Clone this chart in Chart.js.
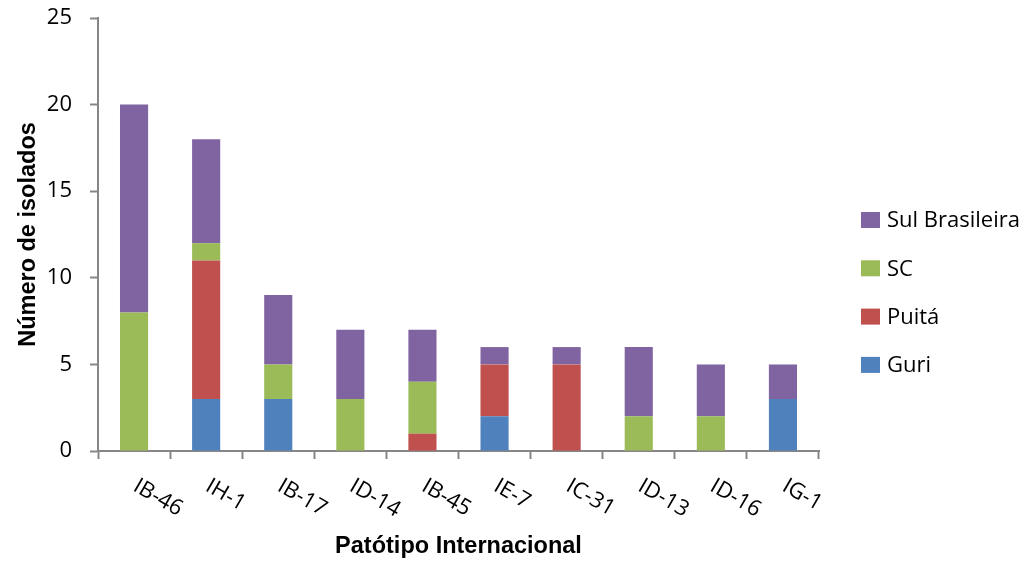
<!DOCTYPE html>
<html>
<head>
<meta charset="utf-8">
<script src="https://cdn.jsdelivr.net/npm/chart.js@4/dist/chart.umd.min.js"></script>
<style>
  html, body { margin: 0; padding: 0; background: #fff; }
  #wrap { width: 1031px; height: 564px; position: relative; }
</style>
</head>
<body>
<div id="wrap"><canvas id="c" width="1031" height="564"></canvas></div>
<script>
// Patótipos e número de isolados por cultivar de origem
const categories = ['IB-46', 'IH-1', 'IB-17', 'ID-14', 'IB-45', 'IE-7', 'IC-31', 'ID-13', 'ID-16', 'IG-1'];
const guri          = [0, 3, 3, 0, 0, 2, 0, 0, 0, 3];
const puita         = [0, 8, 0, 0, 1, 3, 5, 0, 0, 0];
const sc            = [8, 1, 2, 3, 3, 0, 0, 2, 2, 0];
const sulBrasileira = [12, 6, 4, 4, 3, 1, 1, 4, 3, 2];
const yTickValues   = [0, 5, 10, 15, 20, 25];

const FONT = '"Open Sans", sans-serif';
const TITLE_FONT = '"Liberation Sans", Arial, sans-serif';
const AXIS_GREY = '#868686';

// Category labels slanted downward to the right, below the tick marks
const slantedLabels = {
  id: 'slantedLabels',
  afterDraw(chart) {
    const ctx = chart.ctx;
    const x = chart.scales.x;
    const angle = 30 * Math.PI / 180;
    ctx.save();
    ctx.font = '22px ' + FONT;
    ctx.fillStyle = '#000';
    ctx.textAlign = 'left';
    ctx.textBaseline = 'alphabetic';
    categories.forEach((label, i) => {
      const px = x.getPixelForValue(i);
      ctx.save();
      ctx.translate(px - 2, x.top + 39);
      ctx.rotate(angle);
      ctx.fillText(label, 0, 0);
      ctx.restore();
    });
    ctx.restore();
  }
};

// Legend on the right, top series first
const sideLegend = {
  id: 'sideLegend',
  afterDraw(chart) {
    const ctx = chart.ctx;
    const items = chart.data.datasets.slice().reverse();
    const left = 861, firstCenter = 220, step = 48.3;
    ctx.save();
    ctx.font = '22px ' + FONT;
    ctx.textAlign = 'left';
    ctx.textBaseline = 'middle';
    items.forEach((ds, i) => {
      const cy = firstCenter + i * step;
      ctx.fillStyle = ds.backgroundColor;
      ctx.fillRect(left, cy - 8, 19, 16);
      ctx.fillStyle = '#000';
      ctx.fillText(ds.label, left + 26, cy + 1);
    });
    ctx.restore();
  }
};

new Chart(document.getElementById('c'), {
  type: 'bar',
  data: {
    labels: categories,
    datasets: [
      { label: 'Guri', data: guri, backgroundColor: '#4F81BD' },
      { label: 'Puitá', data: puita, backgroundColor: '#C0504D' },
      { label: 'SC', data: sc, backgroundColor: '#9BBB59' },
      { label: 'Sul Brasileira', data: sulBrasileira, backgroundColor: '#8064A2' }
    ]
  },
  options: {
    responsive: false,
    animation: false,
    devicePixelRatio: 1,
    layout: { padding: { top: 18, right: 212, bottom: 0, left: 0 } },
    datasets: { bar: { barPercentage: 0.39, categoryPercentage: 1.0, borderWidth: 0 } },
    plugins: {
      legend: { display: false },
      tooltip: { enabled: false }
    },
    scales: {
      x: {
        stacked: true,
        grid: {
          display: true, offset: true, drawOnChartArea: false, drawTicks: true,
          tickLength: 8, tickWidth: 2, color: AXIS_GREY
        },
        border: { display: true, color: AXIS_GREY, width: 2 },
        ticks: { display: false },
        title: {
          display: true, text: 'Patótipo Internacional', color: '#000',
          font: { family: TITLE_FONT, size: 23.5, weight: 'bold' },
          padding: { top: 76, bottom: 3 }
        },
        afterFit(scale) { scale.height = 113; scale.paddingLeft = 0; scale.paddingRight = 0; }
      },
      y: {
        stacked: true,
        min: 0, max: 25,
        afterBuildTicks(scale) { scale.ticks = yTickValues.map(v => ({ value: v })); },
        grid: {
          display: true, drawOnChartArea: false, drawTicks: true,
          tickLength: 8, tickWidth: 2, color: AXIS_GREY
        },
        border: { display: true, color: AXIS_GREY, width: 2 },
        ticks: { color: '#000', padding: 18, font: { family: FONT, size: 22 } },
        title: {
          display: true, text: 'Número de isolados', color: '#000',
          font: { family: TITLE_FONT, size: 23.5, weight: 'bold' },
          padding: { top: 14, bottom: 4 }
        },
        afterFit(scale) { scale.width = 98; scale.paddingTop = 0; scale.paddingBottom = 0; }
      }
    }
  },
  plugins: [slantedLabels, sideLegend]
});
</script>
</body>
</html>
